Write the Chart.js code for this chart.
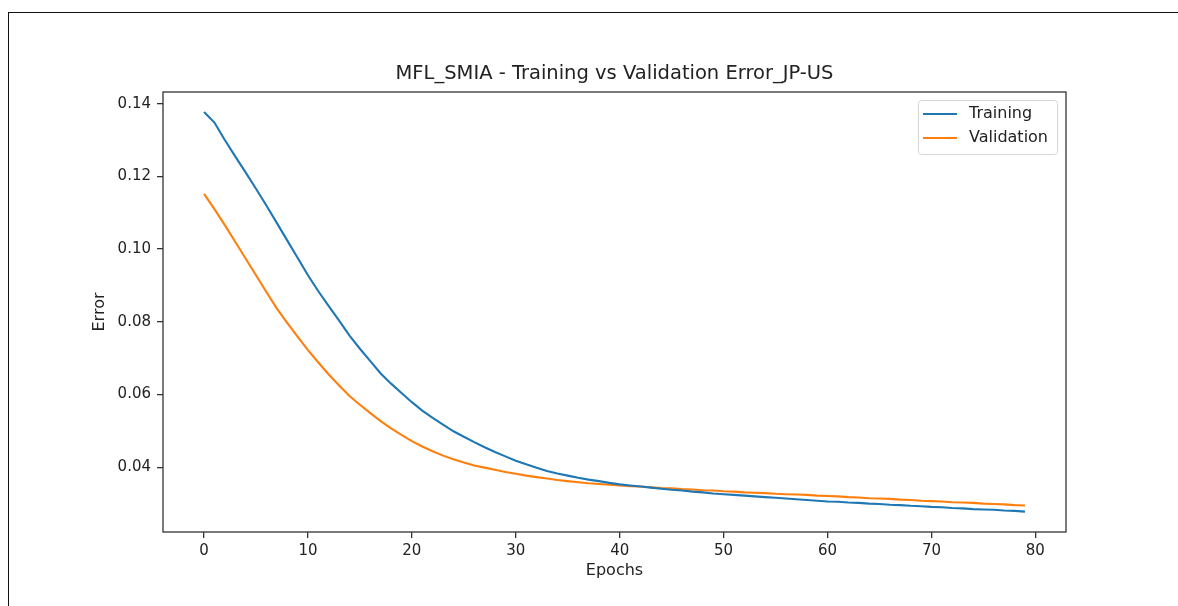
<!DOCTYPE html>
<html>
<head>
<meta charset="utf-8">
<title>MFL_SMIA - Training vs Validation Error_JP-US</title>
<script src="https://cdn.jsdelivr.net/npm/chart.js@4.4.1/dist/chart.umd.min.js"></script>
<style>
  html, body { margin: 0; padding: 0; background: #fff; }
  #wrap { position: relative; width: 1178px; height: 606px; overflow: hidden; }
  #frame {
    position: absolute; left: 8px; top: 12px; right: -4px; bottom: -4px;
    border-top: 1.5px solid #111; border-left: 1.5px solid #111;
  }
  #errorChart { position: absolute; left: 0; top: 0; }
</style>
</head>
<body>
<div id="wrap">
  <div id="frame"></div>
  <canvas id="errorChart" width="1178" height="606"></canvas>
</div>
<script>
// Error per epoch (epochs 0..79)
const trainingError = [
  0.1377, 0.1348, 0.1300, 0.1255, 0.1211, 0.1166, 0.1120, 0.1072, 0.1024, 0.0976,
  0.0928, 0.0884, 0.0843, 0.0803, 0.0762, 0.0726, 0.0692, 0.0658, 0.0630, 0.0604,
  0.0579, 0.0556, 0.0536, 0.0517, 0.0499, 0.0484, 0.0469, 0.0455, 0.0442, 0.0430,
  0.0418, 0.0408, 0.0399, 0.0390, 0.0383, 0.0377, 0.0371, 0.0366, 0.0362, 0.0357,
  0.0353, 0.0350, 0.0347, 0.0344, 0.0341, 0.0338, 0.0336, 0.0333, 0.0331, 0.0328,
  0.0326, 0.0324, 0.0322, 0.0320, 0.0318, 0.0316, 0.0314, 0.0312, 0.0310, 0.0308,
  0.0306, 0.0305, 0.0303, 0.0302, 0.0300, 0.0299, 0.0297, 0.0296, 0.0294, 0.0293,
  0.0291, 0.0290, 0.0288, 0.0287, 0.0285, 0.0284, 0.0283, 0.0281, 0.0280, 0.0278
];
const validationError = [
  0.1152, 0.1110, 0.1066, 0.1020, 0.0974, 0.0928, 0.0882, 0.0837, 0.0797, 0.0759,
  0.0722, 0.0688, 0.0655, 0.0625, 0.0596, 0.0572, 0.0549, 0.0527, 0.0507, 0.0489,
  0.0472, 0.0457, 0.0444, 0.0432, 0.0422, 0.0413, 0.0405, 0.0399, 0.0393, 0.0387,
  0.0382, 0.0377, 0.0373, 0.0369, 0.0365, 0.0362, 0.0359, 0.0356, 0.0354, 0.0352,
  0.0350, 0.0348, 0.0347, 0.0345, 0.0343, 0.0342, 0.0340, 0.0339, 0.0337, 0.0336,
  0.0334, 0.0333, 0.0331, 0.0330, 0.0329, 0.0327, 0.0326, 0.0325, 0.0324, 0.0322,
  0.0321, 0.0320, 0.0318, 0.0317, 0.0315, 0.0314, 0.0313, 0.0311, 0.0310, 0.0308,
  0.0307, 0.0306, 0.0304, 0.0303, 0.0302, 0.0300, 0.0299, 0.0298, 0.0296, 0.0295
];
const epochs = trainingError.map((_, i) => i);

const xTicks = [0, 10, 20, 30, 40, 50, 60, 70, 80];
const yTicks = [0.04, 0.06, 0.08, 0.10, 0.12, 0.14];

const FONT = '"DejaVu Sans", "Liberation Sans", sans-serif';
const INK = '#222';
const SPINE = '#333';

// Box around the plot area (all four sides)
const spines = {
  id: 'spines',
  afterDatasetsDraw(chart) {
    const { ctx, chartArea: a } = chart;
    ctx.save();
    ctx.strokeStyle = SPINE;
    ctx.lineWidth = 1.3;
    ctx.strokeRect(a.left, a.top, a.right - a.left, a.bottom - a.top);
    ctx.restore();
  }
};

// Legend drawn inside the upper right corner of the plot
const boxLegend = {
  id: 'boxLegend',
  afterDraw(chart) {
    const { ctx, chartArea } = chart;
    const w = 139, h = 54;
    const x = chartArea.right - 9 - w;
    const y = chartArea.top + 8;
    ctx.save();
    ctx.beginPath();
    ctx.roundRect(x + 0.5, y + 0.5, w, h, 3);
    ctx.fillStyle = 'rgba(255,255,255,0.8)';
    ctx.fill();
    ctx.strokeStyle = '#d6d6d6';
    ctx.lineWidth = 1;
    ctx.stroke();
    ctx.font = '16px ' + FONT;
    ctx.textBaseline = 'middle';
    chart.data.datasets.forEach((ds, i) => {
      const ly = y + 14 + i * 24;
      ctx.beginPath();
      ctx.moveTo(x + 5, ly);
      ctx.lineTo(x + 39, ly);
      ctx.strokeStyle = ds.borderColor;
      ctx.lineWidth = 2.1;
      ctx.stroke();
      ctx.fillStyle = INK;
      ctx.fillText(ds.label, x + 51, ly);
    });
    ctx.restore();
  }
};

const tickFont = { family: FONT, size: 15 };
const labelFont = { family: FONT, size: 16 };

new Chart(document.getElementById('errorChart'), {
  type: 'line',
  data: {
    labels: epochs,
    datasets: [
      {
        label: 'Training',
        data: epochs.map((e, i) => ({ x: e, y: trainingError[i] })),
        borderColor: '#1f77b4',
        borderWidth: 2.1,
        pointRadius: 0,
        tension: 0
      },
      {
        label: 'Validation',
        data: epochs.map((e, i) => ({ x: e, y: validationError[i] })),
        borderColor: '#ff7f0e',
        borderWidth: 2.1,
        pointRadius: 0,
        tension: 0
      }
    ]
  },
  options: {
    responsive: false,
    animation: false,
    layout: { padding: { left: 90, right: 112, top: 0, bottom: 20 } },
    scales: {
      x: {
        type: 'linear',
        min: -3.95,
        max: 82.95,
        afterBuildTicks: (scale) => { scale.ticks = xTicks.map(v => ({ value: v })); },
        afterFit: (scale) => { scale.height = 54; },
        ticks: {
          font: tickFont, color: INK, padding: 4, maxRotation: 0,
          callback: (v) => String(v)
        },
        grid: { drawOnChartArea: false, drawTicks: true, tickLength: 6, color: SPINE, lineWidth: 1.3 },
        border: { display: false },
        title: { display: true, text: 'Epochs', font: labelFont, color: INK, padding: { top: 0, bottom: 5.4 } }
      },
      y: {
        type: 'linear',
        min: 0.0222,
        max: 0.1432,
        afterBuildTicks: (scale) => { scale.ticks = yTicks.map(v => ({ value: v })); },
        afterFit: (scale) => { scale.width = 73; },
        ticks: {
          font: tickFont, color: INK, padding: 6,
          callback: (v) => v.toFixed(2)
        },
        grid: { drawOnChartArea: false, drawTicks: true, tickLength: 6, color: SPINE, lineWidth: 1.3 },
        border: { display: false },
        title: { display: true, text: 'Error', font: labelFont, color: INK, padding: { top: 0.5, bottom: 0 } }
      }
    },
    plugins: {
      legend: { display: false },
      tooltip: { enabled: false },
      title: {
        display: true,
        fullSize: false,
        text: 'MFL_SMIA - Training vs Validation Error_JP-US',
        font: { family: FONT, size: 19.5, weight: 'normal' },
        color: INK,
        padding: { top: 62.3, bottom: 6.3 }
      }
    }
  },
  plugins: [spines, boxLegend]
});
</script>
</body>
</html>
